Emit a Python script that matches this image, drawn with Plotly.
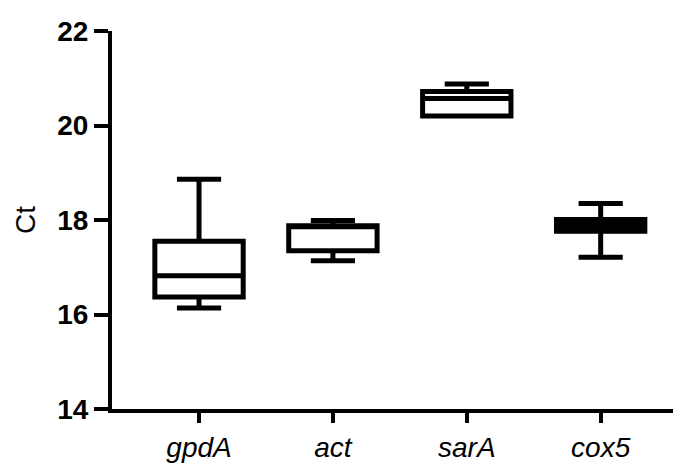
import plotly.graph_objects as go

genes = ["gpdA", "act", "sarA", "cox5"]
lower = [16.14, 17.14, 20.2, 17.21]
q1 = [16.37, 17.35, 20.2, 17.76]
median = [16.82, 17.86, 20.57, 17.89]
q3 = [17.55, 17.88, 20.72, 18.01]
upper = [18.86, 17.99, 20.88, 18.35]
fills = ["white", "white", "white", "black"]
y_ticks = [14, 16, 18, 20, 22]

fig = go.Figure()
for i, g in enumerate(genes):
    fig.add_trace(go.Box(
        x=[g], q1=[q1[i]], median=[median[i]], q3=[q3[i]],
        lowerfence=[lower[i]], upperfence=[upper[i]],
        fillcolor=fills[i], line=dict(color="black", width=5),
        width=0.66, whiskerwidth=0.5, boxpoints=False, showlegend=False,
    ))

fig.update_layout(
    width=681, height=464,
    margin=dict(l=104, r=8, t=16, b=63),
    plot_bgcolor="white", paper_bgcolor="white",
    font=dict(family="Liberation Sans, Arial, sans-serif", color="black"),
    xaxis=dict(
        type="category", categoryorder="array", categoryarray=genes,
        range=[-0.65, 3.6],
        showline=True, linecolor="black", linewidth=4,
        ticks="outside", ticklen=10, tickwidth=4, tickcolor="black",
        showgrid=False, zeroline=False,
        tickfont=dict(size=28, style="italic", color="black"),
    ),
    yaxis=dict(
        range=[14, 22], tickmode="array", tickvals=y_ticks,
        ticktext=[str(v) for v in y_ticks],
        showline=True, linecolor="black", linewidth=4,
        ticks="outside", ticklen=14, tickwidth=4, tickcolor="black",
        showgrid=False, zeroline=False,
        tickfont=dict(size=28, weight="bold", color="black"),
        title=dict(text="Ct", font=dict(size=28, color="black"), standoff=14),
    ),
)

fig.write_html("out.html")
